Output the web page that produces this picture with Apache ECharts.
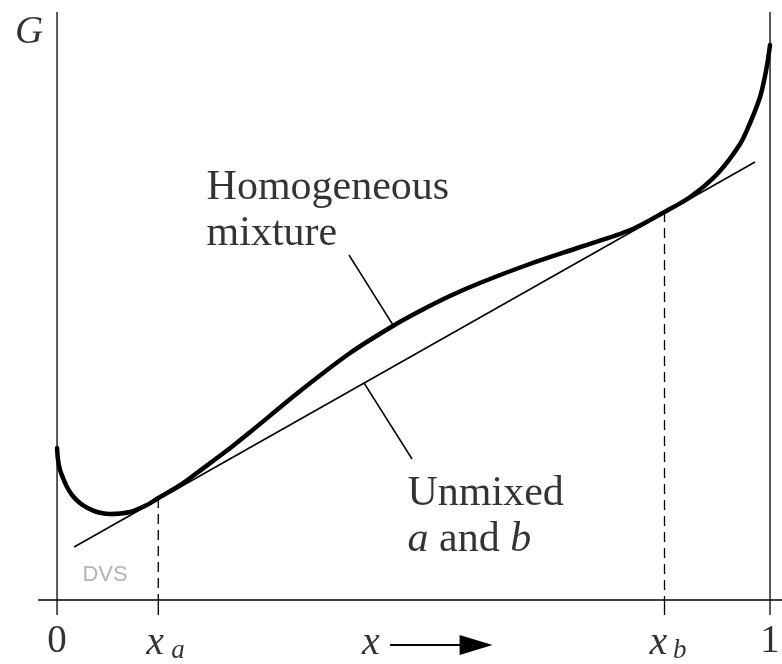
<!DOCTYPE html>
<html>
<head>
<meta charset="utf-8">
<script src="https://cdn.jsdelivr.net/npm/echarts@6/dist/echarts.min.js"></script>
<style>
  html, body { margin: 0; padding: 0; background: #ffffff; }
  #chart { width: 782px; height: 664px; }
</style>
</head>
<body>
<div id="chart"></div>
<script>
// Free energy of mixing G(x) for a binary mixture of a and b
const mixX = [0, 0.0014, 0.0042, 0.0084, 0.014, 0.021, 0.032, 0.043, 0.056, 0.074,
              0.102, 0.126, 0.142, 0.173, 0.196, 0.243, 0.271, 0.341, 0.411, 0.471,
              0.509, 0.551, 0.593, 0.663, 0.734, 0.804, 0.852, 0.888, 0.926, 0.958,
              0.972, 0.986, 0.993, 0.997, 1.0];
const mixG = [1.52, 1.40, 1.30, 1.22, 1.13, 1.05, 0.97, 0.92, 0.88, 0.86,
              0.88, 0.95, 1.02, 1.15, 1.27, 1.52, 1.68, 2.09, 2.47, 2.74,
              2.89, 3.04, 3.17, 3.36, 3.53, 3.70, 3.88, 4.03, 4.26, 4.56,
              4.77, 5.03, 5.24, 5.40, 5.55];

// Common tangent (unmixed a and b)
const tangentX = [0.024, 0.979];
const tangentG = [0.53, 4.38];

// Tangent points
const xA = 0.142;
const xB = 0.852;
const gA = 1.02;
const gB = 3.88;

// Axis extents
const axisTop = 5.88;
const tickDepth = -0.15;
const baseLeft = -0.0266;
const baseRight = 1.0168;

// Tick labels
const tickPos = [0, 1];
const tickText = ['0', '1'];

// Leader lines from the text to the curves
const leaderHomX = [0.4095, 0.4712];
const leaderHomG = [3.45, 2.75];
const leaderUnX = [0.4306, 0.4979];
const leaderUnG = [2.17, 1.41];

// Arrow along the x axis label
const arrowX = [0.467, 0.5877];
const arrowG = -0.45;

const SERIF = '"Liberation Serif", "Times New Roman", serif';
const INK = '#000000';

function pairs(xs, gs) { return xs.map((x, i) => [x, gs[i]]); }

function seg(data, width, dash) {
  return {
    type: 'line', data: data, showSymbol: false, silent: true, clip: false,
    lineStyle: { color: INK, width: width, type: dash || 'solid', cap: 'butt' },
    z: 2
  };
}

function textItem(x, g, text, label) {
  return {
    value: [x, g],
    label: Object.assign({ show: true, formatter: text, color: INK, fontFamily: SERIF }, label)
  };
}

const labelData = [
  textItem(-0.0393, 5.67, 'G', { position: 'inside', fontSize: 39, fontStyle: 'italic' }),
  textItem(tickPos[0], -0.42, tickText[0], { position: 'inside', fontSize: 39 }),
  textItem(tickPos[1], -0.42, tickText[1], { position: 'inside', fontSize: 39 }),
  textItem(xA - 0.0045, -0.43, 'x', { position: 'inside', fontSize: 40, fontStyle: 'italic' }),
  textItem(xA + 0.0275, -0.51, 'a', { position: 'inside', fontSize: 27, fontStyle: 'italic' }),
  textItem(xB - 0.0085, -0.43, 'x', { position: 'inside', fontSize: 40, fontStyle: 'italic' }),
  textItem(xB + 0.0215, -0.51, 'b', { position: 'inside', fontSize: 27, fontStyle: 'italic' }),
  textItem(0.4403, -0.43, 'x', { position: 'inside', fontSize: 40, fontStyle: 'italic' }),
  textItem(0.2104, 4.35, 'Homogeneous\nmixture', {
    position: [0, 0], align: 'left', verticalAlign: 'top', fontSize: 42, lineHeight: 46
  }),
  textItem(0.4923, 1.29, 'Unmixed\n{it|a} and {it|b}', {
    position: [0, 0], align: 'left', verticalAlign: 'top', fontSize: 42, lineHeight: 46,
    rich: { it: { fontSize: 42, lineHeight: 46, fontStyle: 'italic', fontFamily: SERIF, color: INK } }
  }),
  textItem(0.0673, 0.25, 'DVS', {
    position: 'inside', fontSize: 22, color: '#a0a0a0',
    fontFamily: '"Liberation Sans", Arial, sans-serif'
  })
];

const chart = echarts.init(document.getElementById('chart'), null, { renderer: 'canvas' });

chart.setOption({
  animation: false,
  backgroundColor: '#ffffff',
  grid: { left: 0, right: 0, top: 0, bottom: 0 },
  xAxis: { type: 'value', min: -0.08, max: 1.0168, show: false },
  yAxis: { type: 'value', min: -0.64, max: 6.0, show: false },
  series: [
    // frame: baseline and the two composition edges
    seg([[baseLeft, 0], [baseRight, 0]], 1.3),
    seg([[0, axisTop], [0, tickDepth]], 1.3),
    seg([[1, axisTop], [1, tickDepth]], 1.3),
    // ticks under the tangent points
    seg([[xA, 0], [xA, tickDepth]], 1.3),
    seg([[xB, 0], [xB, tickDepth]], 1.3),
    // drop lines from the tangent points
    seg([[xA, gA], [xA, 0]], 1.3, [10, 6]),
    seg([[xB, gB], [xB, 0]], 1.3, [10, 6]),
    // leader lines
    seg(pairs(leaderHomX, leaderHomG), 1.5),
    seg(pairs(leaderUnX, leaderUnG), 1.5),
    // common tangent
    seg(pairs(tangentX, tangentG), 1.6),
    // G of the homogeneous mixture
    {
      type: 'line', data: pairs(mixX, mixG), showSymbol: false, silent: true,
      smooth: 0.3, clip: false,
      lineStyle: { color: INK, width: 4.5, cap: 'round', join: 'round' }, z: 3
    },
    // x arrow
    {
      type: 'line', data: [], silent: true,
      markLine: {
        silent: true, animation: false,
        symbol: ['none', 'triangle'], symbolSize: [20, 33],
        label: { show: false },
        lineStyle: { color: INK, width: 2.2, type: 'solid' },
        emphasis: { disabled: true },
        data: [[{ coord: [arrowX[0], arrowG] }, { coord: [arrowX[1], arrowG] }]]
      }
    },
    // text
    {
      type: 'scatter', data: labelData, symbolSize: 1, silent: true, clip: false,
      itemStyle: { color: 'rgba(0,0,0,0)' }, z: 5
    }
  ]
});
</script>
</body>
</html>
